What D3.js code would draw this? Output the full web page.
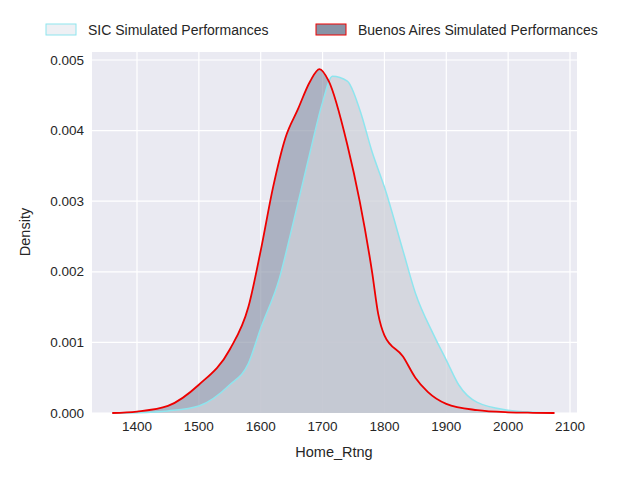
<!DOCTYPE html><html><head><script src="https://cdn.jsdelivr.net/npm/d3@7"></script>
<style>body{margin:0;background:#fff}text{font-family:"Liberation Sans",Arial,sans-serif}</style></head><body>
<svg id="c" width="640" height="480"></svg>
<script>
const sicX=[1360,1400,1450,1500,1550,1580,1600,1630,1650,1680,1700,1716,1740,1760,1780,1800,1830,1850,1880,1900,1920,1950,2000,2040,2070];
const sicY=[0,0.000005,0.00003,0.0001,0.0004,0.0007,0.0012,0.0019,0.0026,0.0037,0.0044,0.00477,0.0047,0.0043,0.0037,0.0032,0.0023,0.0017,0.0011,0.00075,0.0004,0.00015,0.00004,0.00001,0];
const baX=[1360,1400,1450,1500,1550,1580,1600,1620,1640,1660,1680,1695,1710,1740,1760,1780,1790,1800,1830,1850,1870,1900,1950,2000,2040,2075];
const baY=[0,0.00002,0.0001,0.0004,0.0009,0.0015,0.0023,0.0032,0.0039,0.0043,0.0047,0.00487,0.0047,0.0038,0.0030,0.0020,0.0014,0.0011,0.0008,0.0005,0.0003,0.00013,0.00004,0.00001,0.000003,0];
const xTicks=[1400,1500,1600,1700,1800,1900,2000,2100];
const yTicks=[0,0.001,0.002,0.003,0.004,0.005];
const svg=d3.select("#c");
const x=d3.scaleLinear([1400,2100],[137,570]);
const y=d3.scaleLinear([0,0.005],[413,60]);
const L=92,R=577,T=52,B=413;
svg.append("rect").attr("x",L).attr("y",T).attr("width",R-L).attr("height",B-T).attr("fill","#eaeaf2");
const g=svg.append("g");
xTicks.forEach(t=>g.append("line").attr("x1",x(t)).attr("x2",x(t)).attr("y1",T).attr("y2",B).attr("stroke","#fff").attr("stroke-width",1.2));
yTicks.forEach(t=>g.append("line").attr("x1",L).attr("x2",R).attr("y1",y(t)).attr("y2",y(t)).attr("stroke","#fff").attr("stroke-width",1.2));
const sic=sicX.map((v,i)=>[v,sicY[i]]), ba=baX.map((v,i)=>[v,baY[i]]);
const area=d3.area().x(d=>x(d[0])).y0(y(0)).y1(d=>y(d[1])).curve(d3.curveMonotoneX);
const line=d3.line().x(d=>x(d[0])).y(d=>y(d[1])).curve(d3.curveMonotoneX);
g.append("path").attr("d",area(ba)).attr("fill","#8a93a8").attr("fill-opacity",0.65);
g.append("path").attr("d",area(sic)).attr("fill","#cdd0d8").attr("fill-opacity",0.75);
g.append("path").attr("d",line(sic)).attr("fill","none").attr("stroke","#8ee5ee").attr("stroke-width",1.5);
g.append("path").attr("d",line(ba)).attr("fill","none").attr("stroke","#ee0000").attr("stroke-width",1.8);
xTicks.forEach(t=>svg.append("text").attr("x",x(t)).attr("y",431).attr("text-anchor","middle").attr("font-size",13.5).attr("fill","#262626").text(t));
yTicks.forEach(t=>svg.append("text").attr("x",84).attr("y",y(t)+4.5).attr("text-anchor","end").attr("font-size",13.5).attr("fill","#262626").text(t.toFixed(3)));
svg.append("text").attr("x",334).attr("y",457).attr("text-anchor","middle").attr("font-size",14.5).attr("fill","#262626").text("Home_Rtng");
svg.append("text").attr("transform","translate(30,232) rotate(-90)").attr("text-anchor","middle").attr("font-size",14.5).attr("fill","#262626").text("Density");
svg.append("rect").attr("x",46).attr("y",24).attr("width",30).attr("height",11).attr("fill","#eef0f4").attr("stroke","#8ee5ee");
svg.append("text").attr("x",88).attr("y",35).attr("font-size",14).attr("fill","#262626").text("SIC Simulated Performances");
svg.append("rect").attr("x",316).attr("y",24).attr("width",30).attr("height",11).attr("fill","#8893a6").attr("stroke","#ee0000");
svg.append("text").attr("x",358).attr("y",35).attr("font-size",14).attr("fill","#262626").text("Buenos Aires Simulated Performances");
</script></body></html>
